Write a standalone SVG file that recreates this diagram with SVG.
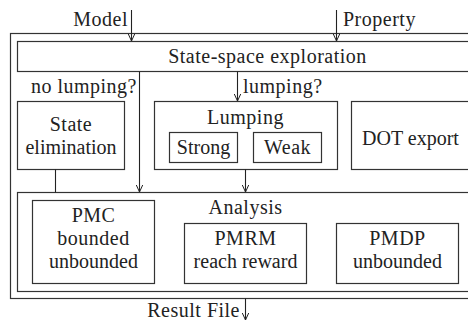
<svg xmlns="http://www.w3.org/2000/svg" width="468" height="322" viewBox="0 0 468 322">
<defs>
<marker id="arr" viewBox="-8 -5 10 10" markerWidth="10" markerHeight="10" refX="0" refY="0" orient="auto" markerUnits="userSpaceOnUse">
<path d="M-7,-3.2 L0,0 L-7,3.2" fill="none" stroke="#222" stroke-width="1"/>
</marker>
</defs>
<style>
rect{fill:none;stroke:#333;stroke-width:1.2}
line{stroke:#222;stroke-width:1.1}
text{font-family:'Liberation Serif',serif;font-size:20px;fill:#222;letter-spacing:0.5px}
.m{text-anchor:middle}
.e{text-anchor:end}
.t{letter-spacing:0px}
</style>
<rect x="0" y="0" width="468" height="322" style="fill:#fff;stroke:none"/>
<g id="system"><rect x="10.5" y="33.5" width="470" height="265"/></g>
<g id="exploration"><rect x="17.5" y="41.5" width="460" height="30"/><text class="m" x="267.5" y="63">State-space exploration</text></g>
<g id="stateelim"><rect x="17.5" y="101.5" width="107" height="68"/><text class="m" x="71" y="131">State</text><text class="m t" x="71" y="154">elimination</text></g>
<g id="lumping"><rect x="154.5" y="101.5" width="183" height="68"/><text class="m" x="245.5" y="124">Lumping</text>
<g id="strong"><rect x="169.5" y="132.5" width="68" height="30"/><text class="m t" x="203.5" y="154">Strong</text></g>
<g id="weak"><rect x="253.5" y="132.5" width="68" height="30"/><text class="m" x="287.5" y="154">Weak</text></g></g>
<g id="dot"><rect x="351.5" y="101.5" width="130" height="68"/><text class="m t" x="410.5" y="145">DOT export</text></g>
<g id="analysis"><rect x="17.5" y="192.5" width="460" height="99"/><text class="m" x="245.5" y="214">Analysis</text>
<g id="pmc"><rect x="32.5" y="200.5" width="122" height="83"/><text class="m" x="93.5" y="222">PMC</text><text class="m" x="93.5" y="245">bounded</text><text class="m t" x="93.5" y="268">unbounded</text></g>
<g id="pmrm"><rect x="184.5" y="223.5" width="122" height="60"/><text class="m" x="245.5" y="245">PMRM</text><text class="m t" x="245.5" y="268">reach reward</text></g>
<g id="pmdp"><rect x="336.5" y="223.5" width="122" height="60"/><text class="m" x="397.5" y="245">PMDP</text><text class="m t" x="397.5" y="268">unbounded</text></g></g>
<g id="labels">
<text class="e" x="128" y="26">Model</text>
<text x="343" y="26">Property</text>
<text class="e" x="137" y="93">no lumping?</text>
<text x="243" y="93">lumping?</text>
<text class="e" x="240" y="317">Result File</text>
</g>
<g id="connectors">
<line x1="131.5" y1="10" x2="131.5" y2="41" marker-end="url(#arr)"/>
<line x1="336.5" y1="10" x2="336.5" y2="41" marker-end="url(#arr)"/>
<line x1="139.5" y1="71.5" x2="139.5" y2="192" marker-end="url(#arr)"/>
<line x1="237.5" y1="71.5" x2="237.5" y2="101" marker-end="url(#arr)"/>
<line x1="55.5" y1="169.5" x2="55.5" y2="192.5"/>
<line x1="245.5" y1="169.5" x2="245.5" y2="192" marker-end="url(#arr)"/>
<line x1="245.5" y1="298.5" x2="245.5" y2="320" marker-end="url(#arr)"/>
</g>
</svg>
